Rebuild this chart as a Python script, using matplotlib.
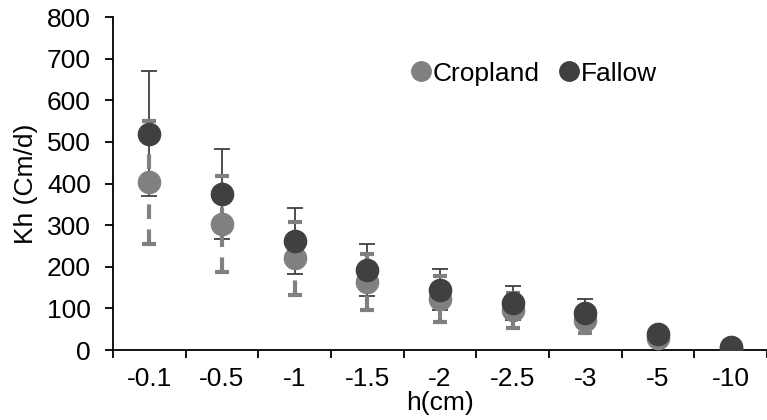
import matplotlib.pyplot as plt
from matplotlib.lines import Line2D

plt.rcParams['font.family'] = ['Liberation Sans', 'DejaVu Sans']

# Data
heads = ['-0.1', '-0.5', '-1', '-1.5', '-2', '-2.5', '-3', '-5', '-10']
cropland = [403, 302, 220, 163, 122, 95, 72, 30, 5]
cropland_err = [148, 115, 87, 68, 55, 42, 31, 0, 0]
fallow = [520, 375, 261, 192, 145, 113, 88, 38, 7]
fallow_err = [150, 108, 79, 63, 50, 41, 35, 0, 0]

gray = '#808080'
dark = '#404040'
fs = 19

fig = plt.figure(figsize=(7.67, 4.2), dpi=100)
ax = fig.add_axes([113 / 767, 1 - 350 / 420, 1 - 113 / 767, 333 / 420])
x = list(range(len(heads)))

# error bars
e2 = ax.errorbar(x, fallow, yerr=fallow_err, fmt='none', ecolor=dark,
                 elinewidth=1.3, capsize=6, capthick=1.3, zorder=2)
e1 = ax.errorbar(x, cropland, yerr=cropland_err, fmt='none', ecolor=gray,
                 elinewidth=3, capsize=5, capthick=3, zorder=3)
e1[2][0].set_linestyle((0, (3.5, 2.5)))

ax.plot(x, cropland, 'o', color=gray, markersize=16, zorder=4)
ax.plot(x, fallow, 'o', color=dark, markersize=16, zorder=5)

ax.set_xlim(-0.5, 8.41)
ax.set_ylim(0, 800)
ax.set_yticks(range(0, 801, 100))
ax.set_xticks([i + 0.5 for i in range(-1, 9)], minor=False)
ax.set_xticklabels([])
ax.set_xticks(x, minor=True)
ax.set_xticklabels(heads, minor=True)
ax.tick_params(axis='x', which='major', length=6, width=1.3, direction='out')
ax.tick_params(axis='x', which='minor', length=0, labelsize=fs, pad=12)
ax.tick_params(axis='y', length=6, width=1.3, labelsize=fs, pad=10)

for s in ['top', 'right']:
    ax.spines[s].set_visible(False)
for s in ['left', 'bottom']:
    ax.spines[s].set_linewidth(1.3)

ax.set_ylabel('Kh (Cm/d)', fontsize=fs, labelpad=6)
ax.set_xlabel('h(cm)', fontsize=fs, labelpad=0)

handles = [Line2D([], [], marker='o', linestyle='none', color=gray, markersize=14),
           Line2D([], [], marker='o', linestyle='none', color=dark, markersize=14)]
ax.legend(handles, ['Cropland', 'Fallow'], ncol=2, frameon=False, fontsize=fs,
          handletextpad=-0.3, columnspacing=0.35, handlelength=1.5,
          loc='center left', bbox_to_anchor=(0.404, 0.83))

fig.savefig('out.png', dpi=100)
